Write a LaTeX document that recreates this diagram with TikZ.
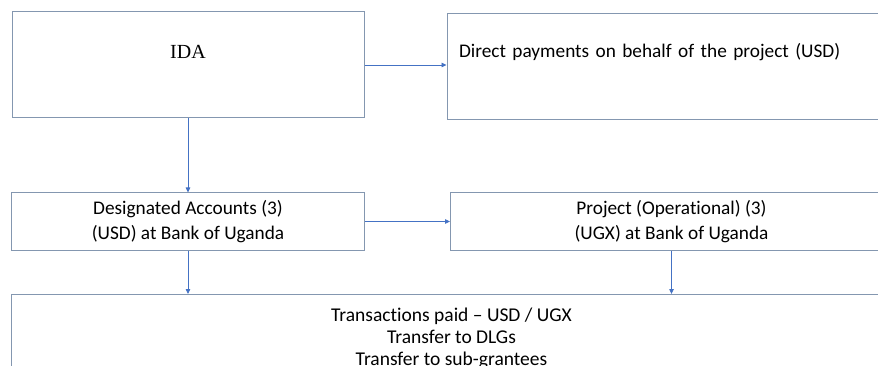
\documentclass[tikz,border=0pt]{standalone}
\usepackage{fontspec}
\setmainfont{Carlito}[Ligatures=NoCommon]
\newfontfamily\serifida{Liberation Serif}
\usetikzlibrary{positioning,arrows.meta}
\definecolor{boxline}{RGB}{132,151,176}
\definecolor{flowblue}{RGB}{68,114,196}
\tikzstyle{fund box}=[
        draw = boxline,
        line width = 1pt,
        fill = white,
        rectangle,
        inner sep = 0pt,
        font = \fontsize{19.3}{24.3}\selectfont
    ]
\tikzstyle{fund arrow}=[
        draw = flowblue,
        line width = 0.8pt,
        -{Triangle[length=5pt,width=4.5pt]}
    ]

\begin{document}
\begin{tikzpicture}[x=1pt, y=-1pt]
        \useasboundingbox (0,0) rectangle (878,366);
        \node[fund box, minimum width=352pt, minimum height=106pt] (ida) at (188,65) {\serifida\fontsize{20}{24}\selectfont\raisebox{6pt}[0pt][0pt]{IDA}};
        \node[fund box, minimum height=106pt, text width=422pt, inner xsep=12pt, align=left] (direct) [right=82pt of ida, yshift=-1.5pt] {\raisebox{9pt}[0pt][0pt]{Direct payments on behalf of the project (USD)}};
        \node[fund box, minimum width=353pt, minimum height=57pt, align=center] (acc) [below=74pt of ida] {Designated Accounts (3)\\(USD) at Bank of Uganda};
        \node[fund box, minimum width=442pt, minimum height=57pt, align=center] (proj) [right=85pt of acc] {Project (Operational) (3)\\(UGX) at Bank of Uganda};
        \node[fund box, minimum width=880pt, minimum height=88pt, align=center, font=\fontsize{19.5}{22.3}\selectfont] (trans) [below=43.5pt of acc.south west, anchor=north west] {Transactions paid -- USD / UGX\\Transfer to DLGs\\Transfer to sub-grantees};

        \draw[fund arrow] (ida) -- (acc);
        \draw[fund arrow] (ida.east) -- (ida.east -| direct.west);
        \draw[fund arrow] (acc) -- (proj);
        \draw[fund arrow] (acc.south) -- (acc.south |- trans.north);
        \draw[fund arrow] (proj.south) -- (proj.south |- trans.north);
    \end{tikzpicture}
\end{document}
